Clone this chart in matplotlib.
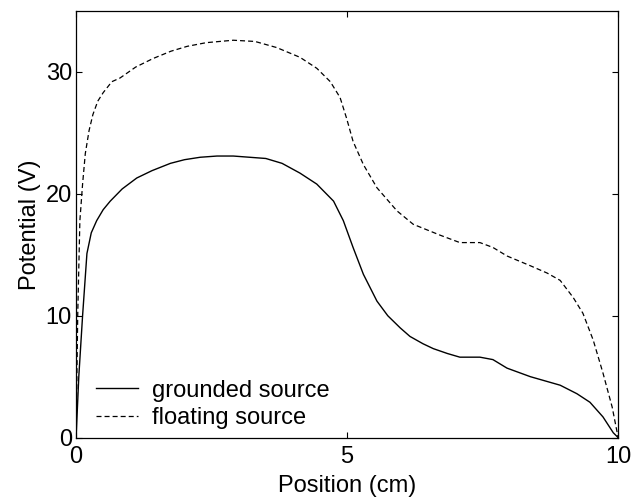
import numpy as np
import matplotlib.pyplot as plt

plt.rcParams['font.family'] = ['Liberation Sans', 'DejaVu Sans']
plt.rcParams['lines.scale_dashes'] = False

# grounded source (solid)
x_gnd = [0.0, 0.05, 0.12, 0.2, 0.28, 0.38, 0.5, 0.63, 0.85, 1.12, 1.4, 1.74, 2.0,
         2.29, 2.6, 2.9, 3.2, 3.5, 3.8, 4.13, 4.44, 4.75, 4.93, 5.11, 5.3,
         5.55, 5.75, 5.98, 6.16, 6.4, 6.59, 6.85, 7.08, 7.3, 7.45, 7.69, 7.95,
         8.38, 8.93, 9.24, 9.48, 9.72, 9.91, 10.0]
v_gnd = [0.0, 5.0, 10.0, 15.1, 16.8, 17.8, 18.7, 19.4, 20.4, 21.3, 21.9, 22.5, 22.8,
         23.0, 23.1, 23.1, 23.0, 22.9, 22.5, 21.7, 20.8, 19.4, 17.8, 15.6, 13.4,
         11.2, 10.0, 9.0, 8.3, 7.7, 7.3, 6.9, 6.6, 6.6, 6.6, 6.4, 5.7,
         5.0, 4.3, 3.6, 2.9, 1.7, 0.4, 0.0]

# floating source (dashed)
x_flt = [0.0, 0.03, 0.07, 0.12, 0.17, 0.24, 0.31, 0.4, 0.5, 0.66, 0.81, 1.1, 1.42,
         1.75, 2.05, 2.4, 2.9, 3.3, 3.7, 4.13, 4.44, 4.69, 4.87, 4.99, 5.11,
         5.3, 5.55, 5.92, 6.22, 6.72, 7.08, 7.45, 7.69, 7.95, 8.38, 8.69, 8.93,
         9.17, 9.35, 9.54, 9.72, 9.89, 10.0]
v_flt = [0.0, 10.0, 17.8, 20.8, 23.3, 25.2, 26.5, 27.6, 28.3, 29.2, 29.5, 30.4, 31.1,
         31.7, 32.1, 32.4, 32.6, 32.5, 32.0, 31.2, 30.3, 29.2, 27.9, 26.2, 24.3,
         22.4, 20.5, 18.6, 17.5, 16.6, 16.0, 16.0, 15.6, 14.9, 14.1, 13.5, 12.9,
         11.5, 10.2, 8.0, 5.3, 2.5, 0.0]

fig = plt.figure(figsize=(6.34, 4.99), dpi=100)
ax = fig.add_axes([0.12, 0.123, 0.855, 0.855])

ax.plot(x_gnd, v_gnd, color='black', lw=1.0, label='grounded source')
ax.plot(x_flt, v_flt, color='black', lw=0.9, dashes=(3.6, 2.2), label='floating source')

ax.set_xlim(0, 10)
ax.set_ylim(0, 35)
ax.set_xticks([0, 5, 10])
ax.set_yticks([0, 10, 20, 30])
ax.tick_params(direction='in', top=True, right=True, length=4, width=0.8,
               labelsize=17, pad=3)
ax.tick_params(axis='x', pad=6)
for s in ax.spines.values():
    s.set_linewidth(0.9)

ax.set_xlabel('Position (cm)', fontsize=17, labelpad=5)
ax.set_ylabel('Potential (V)', fontsize=17, labelpad=3)

ax.legend(loc='lower left', frameon=False, fontsize=17, handlelength=1.75,
          handletextpad=0.6, labelspacing=0.25, borderaxespad=0.0,
          bbox_to_anchor=(0.02, -0.003))

fig.savefig('out.png', dpi=100)
